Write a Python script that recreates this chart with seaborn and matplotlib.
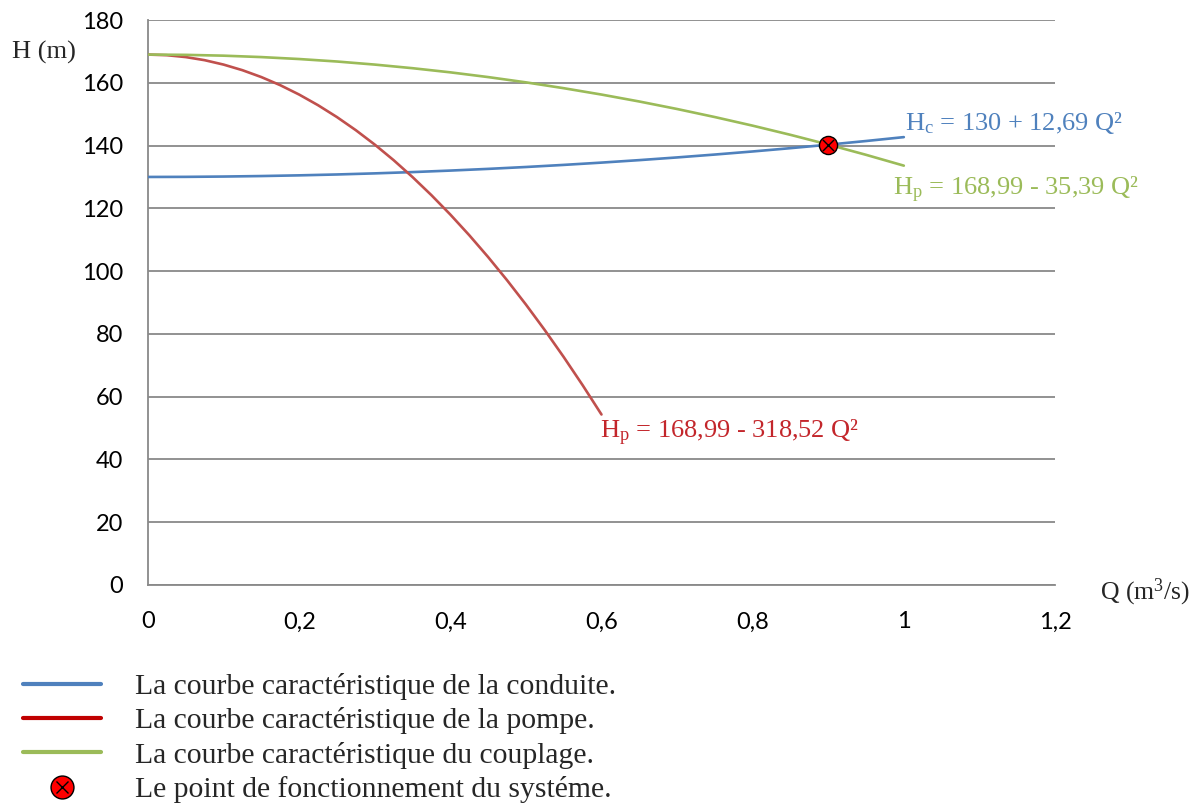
import matplotlib
matplotlib.use("Agg")
import matplotlib.pyplot as plt
from matplotlib.lines import Line2D
import seaborn as sns
import pandas as pd

# debit Q (m3/s)
q = [0, 0.05, 0.1, 0.15, 0.2, 0.25, 0.3, 0.35, 0.4, 0.45, 0.5,
     0.55, 0.6, 0.65, 0.7, 0.75, 0.8, 0.85, 0.9, 0.95, 1.0]
# conduite
h_conduite = [130.00, 130.03, 130.13, 130.29, 130.51, 130.79, 131.14, 131.55,
              132.03, 132.57, 133.17, 133.84, 134.57, 135.36, 136.22, 137.14,
              138.12, 139.17, 140.28, 141.45, 142.69]
# couplage
h_couplage = [168.99, 168.90, 168.64, 168.19, 167.57, 166.78, 165.80, 164.65,
              163.33, 161.82, 160.14, 158.28, 156.25, 154.04, 151.65, 149.08,
              146.34, 143.42, 140.32, 137.05, 133.60]
# pompe seule (jusqu'a 0,6)
q_pompe = [0, 0.025, 0.05, 0.075, 0.1, 0.125, 0.15, 0.175, 0.2, 0.225, 0.25,
           0.275, 0.3, 0.325, 0.35, 0.375, 0.4, 0.425, 0.45, 0.475, 0.5,
           0.525, 0.55, 0.575, 0.6]
h_pompe = [168.99, 168.79, 168.19, 167.20, 165.80, 164.01, 161.82, 159.24,
           156.25, 152.86, 149.08, 144.90, 140.32, 135.35, 129.97, 124.20,
           118.03, 111.46, 104.49, 97.12, 89.36, 81.20, 72.64, 63.68, 54.32]
# point de fonctionnement
q_pf = [0.9]
h_pf = [140.3]

x_ticks = [0, 0.2, 0.4, 0.6, 0.8, 1.0, 1.2]
x_labels = ["0", "0,2", "0,4", "0,6", "0,8", "1", "1,2"]
y_ticks = list(range(0, 181, 20))

blue = "#4F81BD"
red = "#C0504D"
green = "#9BBB59"
grid_gray = "#898989"

sns.set_style("white")
plt.rcParams["font.family"] = ["Lato", "DejaVu Sans"]
plt.rcParams["mathtext.fontset"] = "custom"
plt.rcParams["mathtext.rm"] = "Liberation Serif"
plt.rcParams["mathtext.it"] = "Liberation Serif:italic"
serif = ["Liberation Serif", "DejaVu Serif"]

fig = plt.figure(figsize=(11.99, 8.07), dpi=100)
ax = fig.add_axes([0.1234, 0.2751, 0.7565, 0.7001])

df_c = pd.DataFrame({"Q": q, "H": h_conduite})
df_cp = pd.DataFrame({"Q": q, "H": h_couplage})
df_p = pd.DataFrame({"Q": q_pompe, "H": h_pompe})

sns.lineplot(data=df_c, x="Q", y="H", color=blue, linewidth=1.9, ax=ax, zorder=3)
sns.lineplot(data=df_p, x="Q", y="H", color=red, linewidth=1.9, ax=ax, zorder=3)
sns.lineplot(data=df_cp, x="Q", y="H", color=green, linewidth=1.9, ax=ax, zorder=3)
sns.scatterplot(x=q_pf, y=h_pf, ax=ax, s=170, color="#FF0000",
                edgecolor="black", linewidth=1.0, zorder=5)
sns.scatterplot(x=q_pf, y=h_pf, ax=ax, s=65, marker="x", color="black",
                linewidth=1.0, zorder=6)

ax.set_xlim(0, 1.2)
ax.set_ylim(0, 180)
ax.set_xticks(x_ticks)
ax.set_xticklabels(x_labels)
ax.set_yticks(y_ticks)
ax.yaxis.grid(True, color=grid_gray, linewidth=1.3)
ax.xaxis.grid(False)
ax.set_axisbelow(True)
for s in ["top", "right"]:
    ax.spines[s].set_visible(False)
for s in ["left", "bottom"]:
    ax.spines[s].set_color(grid_gray)
    ax.spines[s].set_linewidth(1.3)
ax.tick_params(axis="both", labelsize=17, colors=grid_gray, labelcolor="black",
               width=1.3, length=6, direction="out")
ax.tick_params(axis="y", pad=12)
ax.tick_params(axis="x", pad=13)
ax.set_xlabel("")
ax.set_ylabel("")

# titres des axes
fig.text(12 / 1199, 1 - 52 / 807, "H (m)", family=serif, fontsize=19,
         va="center", ha="left")
fig.text(1100 / 1199, 1 - 592 / 807, "Q (m$^3$/s)", family=serif, fontsize=18.5,
         va="center", ha="left")

# equations
ax.text(1.002, 147.2, r"H$_\mathrm{c}$ = 130 + 12,69 Q²", color=blue,
        family=serif, fontsize=19, va="center", ha="left")
ax.text(0.986, 125.8, r"H$_\mathrm{p}$ = 168,99 - 35,39 Q²", color=green,
        family=serif, fontsize=19, va="center", ha="left")
ax.text(0.598, 48.4, r"H$_\mathrm{p}$ = 168,99 - 318,52 Q²", color="#C3262B",
        family=serif, fontsize=19, va="center", ha="left")

# legende
handles = [
    Line2D([], [], color=blue, linewidth=3),
    Line2D([], [], color="#C00000", linewidth=3),
    Line2D([], [], color=green, linewidth=3),
    (Line2D([], [], linestyle="none", marker="o", markersize=16.5,
            markerfacecolor="#FF0000", markeredgecolor="black"),
     Line2D([], [], linestyle="none", marker="x", markersize=9,
            markeredgecolor="black")),
]
labels = [
    "La courbe caractéristique de la conduite.",
    "La courbe caractéristique de la pompe.",
    "La courbe caractéristique du couplage.",
    "Le point de fonctionnement du systéme.",
]
fig.legend(handles, labels, loc="upper left", bbox_to_anchor=(0.019, 0.166),
           frameon=False, prop={"family": serif, "size": 21.3},
           handlelength=2.65, handletextpad=1.15, labelspacing=0.25,
           borderpad=0, borderaxespad=0)

fig.savefig("out.png", dpi=100)
